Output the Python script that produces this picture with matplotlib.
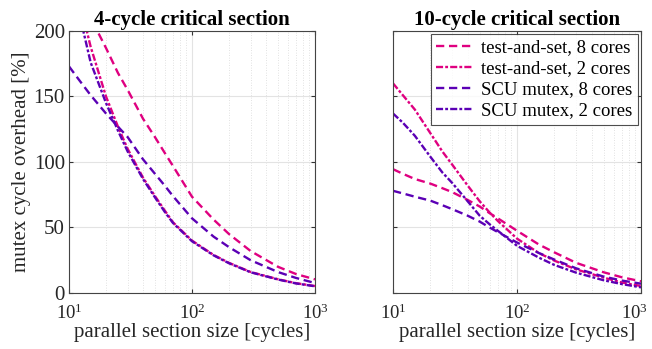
import numpy as np
import matplotlib
matplotlib.use('Agg')
import matplotlib.pyplot as plt
from matplotlib.ticker import LogLocator, NullFormatter
from matplotlib.transforms import ScaledTranslation

plt.rcParams['font.family'] = ['Liberation Serif', 'DejaVu Serif']
plt.rcParams['mathtext.fontset'] = 'stix'

# parallel section size [cycles]
x = [10, 12, 15, 20, 25, 30, 40, 50, 60, 70, 100, 150, 200, 300, 500, 700, 1000]

# 4-cycle critical section, overhead [%]
tas8_4 = [240, 227, 210, 187, 168, 155, 133, 119, 107, 97, 73.5, 56, 45, 32, 20, 14.5, 10.4]
tas2_4 = [265, 225, 188, 150, 127, 110, 88, 74, 63, 54, 40, 29, 23, 16, 10.5, 7.5, 5.3]
scu8_4 = [173, 163, 151, 137, 127, 119, 102, 91, 82, 74, 57, 43, 35, 25, 16, 11.5, 7.6]
scu2_4 = [255, 215, 176, 145, 124, 108, 87, 73, 62, 53.5, 39.5, 28.7, 22.7, 15.8, 10.3, 7.3, 5.1]

# 10-cycle critical section, overhead [%]
tas8_10 = [94.5, 91, 87, 83.5, 80, 77, 71, 66, 61, 57, 47.5, 37, 31, 23, 15.8, 12, 8.9]
tas2_10 = [160, 151, 140, 122, 108, 98, 82, 70, 61.5, 55, 41.5, 30.5, 24.7, 18, 11.7, 8, 5.3]
scu8_10 = [78, 76, 73.5, 70.5, 67, 64, 59, 54.5, 50, 46.5, 38.5, 30.5, 25.5, 18.8, 12.5, 9.5, 7.1]
scu2_10 = [137, 130, 120, 104, 92, 84, 70, 59, 52.5, 47.5, 36, 27, 21.4, 15.5, 9.7, 6.8, 4.3]

labels = ['test-and-set, 8 cores', 'test-and-set, 2 cores',
          'SCU mutex, 8 cores', 'SCU mutex, 2 cores']
titles = ['4-cycle critical section', '10-cycle critical section']

pink = '#df0080'
purple = '#5b00b5'
dash = (0, (3.5, 2))
dashdot = (0, (3, 0.9, 1.2, 0.9))
styles = [(pink, dash), (pink, dashdot), (purple, dash), (purple, dashdot)]

fs = 15
fig = plt.figure(figsize=(6.52, 3.49), dpi=100)
ax1 = fig.add_axes([0.1058, 0.1605, 0.3773, 0.7507])
ax2 = fig.add_axes([0.6028, 0.1605, 0.3804, 0.7507])

panels = [(ax1, [tas8_4, tas2_4, scu8_4, scu2_4]),
          (ax2, [tas8_10, tas2_10, scu8_10, scu2_10])]

for i, (ax, series) in enumerate(panels):
    for ys, (col, ls), lab in zip(series, styles, labels):
        ax.plot(x, ys, color=col, linestyle=ls, linewidth=1.7, label=lab)
    ax.set_xscale('log')
    ax.set_xlim(10, 1000)
    ax.set_ylim(0, 200)
    ax.set_yticks([0, 50, 100, 150, 200])
    ax.set_xticks([10, 100, 1000])
    ax.xaxis.set_minor_locator(LogLocator(base=10, subs=np.arange(2, 10)))
    ax.xaxis.set_minor_formatter(NullFormatter())
    ax.grid(True, which='major', color='#e3e3e3', linewidth=0.8)
    ax.grid(True, which='minor', axis='x', color='#d8d8d8', linestyle=(0, (1, 2)), linewidth=0.6)
    ax.set_axisbelow(True)
    ax.tick_params(which='both', direction='in', top=True, right=True,
                   labelsize=fs, colors='#333333', length=3, pad=3)
    ax.tick_params(axis='x', which='major', pad=8, labelsize=13.5)
    ax.tick_params(which='minor', length=0)
    ax.tick_params(axis='both', which='major', labelcolor='#262626')
    for sp in ax.spines.values():
        sp.set_color('#444444')
        sp.set_linewidth(0.8)
    ax.set_xlabel('parallel section size [cycles]', fontsize=fs, color='#262626', labelpad=0)
    ax.set_title(titles[i], fontsize=fs, fontweight='bold', pad=4)

ax1.set_ylabel('mutex cycle overhead [%]', fontsize=fs, color='#262626', labelpad=2)
ax2.tick_params(axis='y', labelleft=False)

leg = ax2.legend(loc='upper right', fontsize=13.5, handlelength=1.9, frameon=True,
                 fancybox=False, edgecolor='#222222', borderpad=0.3,
                 labelspacing=0.2, handletextpad=0.5, borderaxespad=0.15)
leg.get_frame().set_linewidth(0.8)

# nudge the last x tick label of the right panel so it stays inside the figure
fig.canvas.draw()
last = ax2.xaxis.get_major_ticks()[-1].label1
last.set_transform(last.get_transform() + ScaledTranslation(-5 / 72, 0, fig.dpi_scale_trans))

fig.savefig('out.png', dpi=100)
